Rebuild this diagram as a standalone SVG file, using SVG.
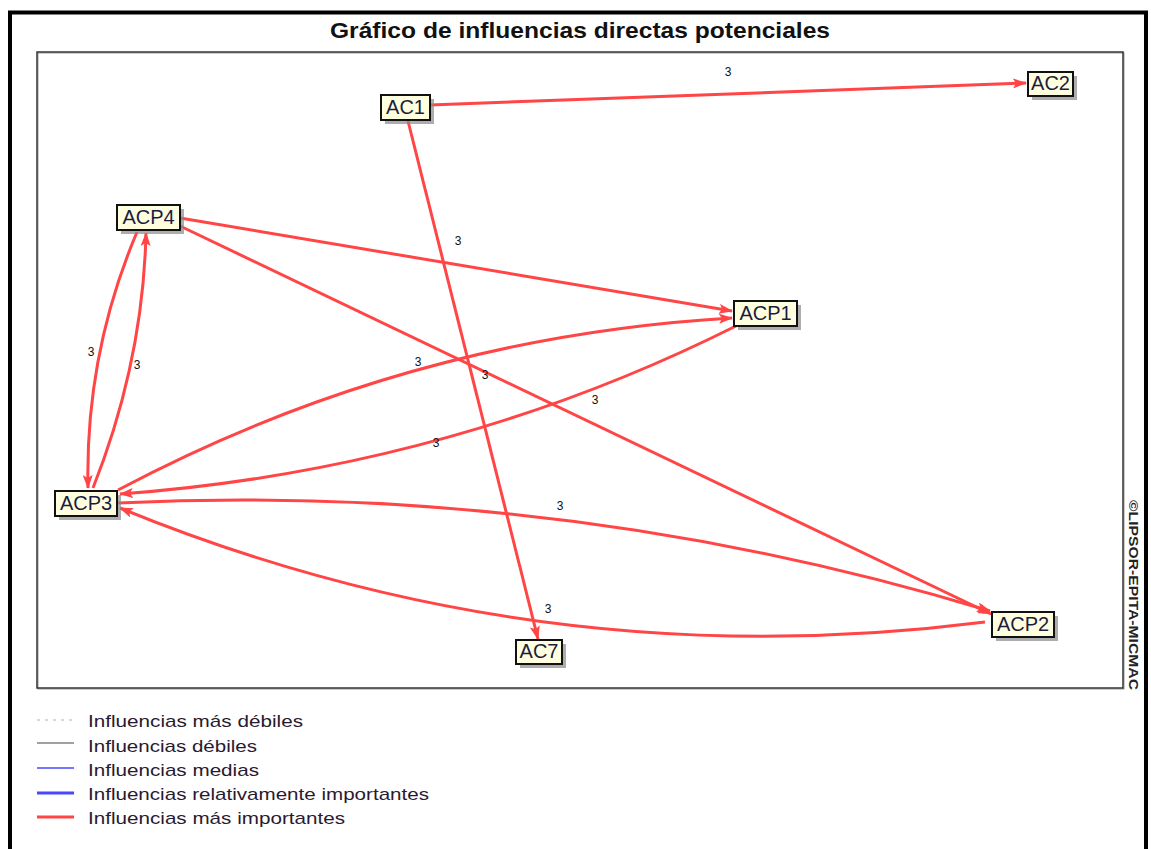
<svg xmlns="http://www.w3.org/2000/svg" width="1151" height="849" viewBox="0 0 1151 849">
<style>
.node rect.box{fill:#ffffe0;stroke:#111;stroke-width:2}
.node rect.sh{fill:#8a8a8a;opacity:0.7}
.node text{font-family:"Liberation Sans",Arial,sans-serif;font-size:20px;fill:#1c1c40;text-anchor:middle}
.edge{fill:none;stroke:#ff4545;stroke-width:3;marker-end:url(#arr)}
.lbl{font-family:"Liberation Sans",Arial,sans-serif;font-size:12px;fill:#111;text-anchor:middle}
.leg{font-family:"Liberation Sans",Arial,sans-serif;font-size:17px;fill:#2a1a30}
</style>
<defs>
<marker id="arr" viewBox="0 0 14 10" refX="13" refY="5" markerWidth="14" markerHeight="10" markerUnits="userSpaceOnUse" orient="auto">
<path d="M0,0 L14,5 L0,10 L3,5 Z" fill="#ff4545"/>
</marker>
</defs>
<rect x="0" y="0" width="1151" height="849" fill="#ffffff"/>
<rect x="10" y="12.5" width="1136" height="870" fill="none" stroke="#000" stroke-width="4"/>
<text x="580" y="38" font-family="'Liberation Sans',Arial,sans-serif" font-size="22" font-weight="bold" text-anchor="middle" textLength="500" lengthAdjust="spacingAndGlyphs" fill="#111">Gráfico de influencias directas potenciales</text>
<rect x="38" y="53" width="1086" height="636" fill="none" stroke="#9a9a9a" stroke-width="1"/>
<rect x="37" y="52" width="1086" height="636" fill="none" stroke="#333" stroke-width="1.5"/>

<g id="connectors">
<path class="edge" d="M430,105 L1026,83"/>
<path class="edge" d="M408,121 L538,639"/>
<path class="edge" d="M180,218 L732,311"/>
<path class="edge" d="M180,226 L991,614"/>
<path class="edge" d="M118,490 Q406,337 732,318"/>
<path class="edge" d="M736,326 Q448,470 120,494"/>
<path class="edge" d="M118,503 Q564,482 990,611"/>
<path class="edge" d="M985,622 Q538,679 120,508"/>
<path class="edge" d="M137,232 Q85,355 88,488"/>
<path class="edge" d="M93,488 Q143,362 146,233"/>
<text class="lbl" x="728" y="76">3</text>
<text class="lbl" x="458" y="245">3</text>
<text class="lbl" x="485" y="379">3</text>
<text class="lbl" x="595" y="404">3</text>
<text class="lbl" x="418" y="366">3</text>
<text class="lbl" x="436" y="447">3</text>
<text class="lbl" x="560" y="510">3</text>
<text class="lbl" x="548" y="613">3</text>
<text class="lbl" x="91" y="356">3</text>
<text class="lbl" x="137" y="369">3</text>
</g>

<g id="AC1" class="node"><rect class="sh" x="385" y="99" width="49" height="25"/><rect class="box" x="381" y="95" width="49" height="25"/><text x="405.5" y="114">AC1</text></g>
<g id="AC2" class="node"><rect class="sh" x="1032" y="76" width="45" height="24"/><rect class="box" x="1028" y="72" width="45" height="24"/><text x="1050.5" y="90">AC2</text></g>
<g id="ACP4" class="node"><rect class="sh" x="121" y="209" width="63" height="25"/><rect class="box" x="117" y="205" width="63" height="25"/><text x="148.5" y="224">ACP4</text></g>
<g id="ACP1" class="node"><rect class="sh" x="738" y="305" width="63" height="25"/><rect class="box" x="734" y="301" width="63" height="25"/><text x="765.5" y="320">ACP1</text></g>
<g id="ACP3" class="node"><rect class="sh" x="59" y="495" width="62" height="25"/><rect class="box" x="55" y="491" width="62" height="25"/><text x="86" y="510">ACP3</text></g>
<g id="ACP2" class="node"><rect class="sh" x="996" y="616" width="62" height="25"/><rect class="box" x="992" y="612" width="62" height="25"/><text x="1023" y="631">ACP2</text></g>
<g id="AC7" class="node"><rect class="sh" x="520" y="644" width="46" height="24"/><rect class="box" x="516" y="640" width="46" height="24"/><text x="539" y="658">AC7</text></g>

<text transform="translate(1129,595) rotate(90)" font-family="'Liberation Sans',Arial,sans-serif" font-size="12" font-weight="bold" text-anchor="middle" textLength="190" lengthAdjust="spacingAndGlyphs" fill="#222">©LIPSOR-EPITA-MICMAC</text>

<g id="legend">
<line x1="37" y1="720" x2="74" y2="720" stroke="#b0b0b0" stroke-width="1" stroke-dasharray="3,5"/>
<line x1="37" y1="743" x2="74" y2="743" stroke="#444" stroke-width="1"/>
<line x1="37" y1="768" x2="74" y2="768" stroke="#4848ff" stroke-width="1.3"/>
<line x1="37" y1="793" x2="74" y2="793" stroke="#4848ff" stroke-width="3"/>
<line x1="37" y1="817" x2="74" y2="817" stroke="#ff4545" stroke-width="3"/>
<text class="leg" x="88" y="727" textLength="215" lengthAdjust="spacingAndGlyphs">Influencias más débiles</text>
<text class="leg" x="88" y="752" textLength="169" lengthAdjust="spacingAndGlyphs">Influencias débiles</text>
<text class="leg" x="88" y="776" textLength="171" lengthAdjust="spacingAndGlyphs">Influencias medias</text>
<text class="leg" x="88" y="800" textLength="341" lengthAdjust="spacingAndGlyphs">Influencias relativamente importantes</text>
<text class="leg" x="88" y="824" textLength="257" lengthAdjust="spacingAndGlyphs">Influencias más importantes</text>
</g>
</svg>
